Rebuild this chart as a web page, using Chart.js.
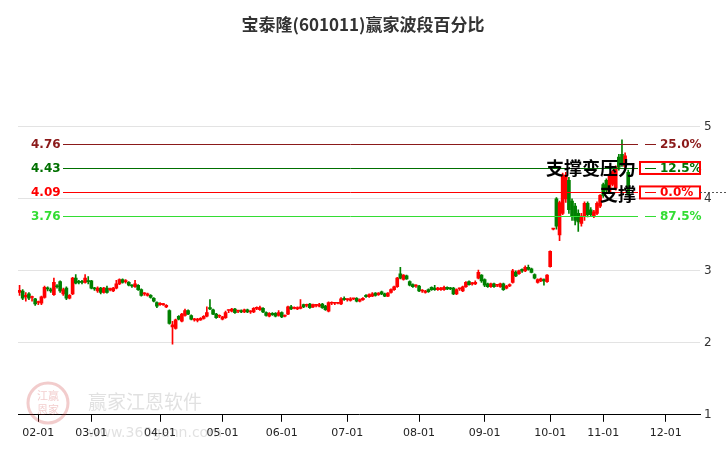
<!DOCTYPE html>
<html>
<head>
<meta charset="utf-8">
<script src="https://cdn.jsdelivr.net/npm/chart.js@4"></script>
<style>
  html, body { margin: 0; padding: 0; background: #fff; }
  #wrap { width: 726px; height: 450px; }
</style>
</head>
<body>
<div id="wrap"><canvas id="c" width="726" height="450"></canvas></div>
<script>
// daily candles: [open, close, high, low]
const candles = [
  [2.70,2.73,2.80,2.66],[2.72,2.62,2.74,2.60],[2.64,2.66,2.70,2.58],[2.68,2.62,2.70,2.60],[2.63,2.63,2.65,2.58],
  [2.61,2.54,2.62,2.52],[2.56,2.56,2.58,2.53],[2.55,2.64,2.65,2.53],[2.63,2.77,2.79,2.62],[2.76,2.75,2.78,2.72],
  [2.74,2.72,2.76,2.70],[2.67,2.84,2.90,2.66],[2.79,2.78,2.81,2.76],[2.85,2.72,2.86,2.70],[2.68,2.74,2.76,2.66],
  [2.76,2.62,2.78,2.60],[2.62,2.66,2.67,2.61],[2.68,2.90,2.91,2.67],[2.90,2.83,2.95,2.82],[2.85,2.84,2.87,2.82],
  [2.85,2.84,2.87,2.82],[2.84,2.90,2.95,2.83],[2.86,2.85,2.92,2.82],[2.86,2.76,2.87,2.75],[2.76,2.75,2.77,2.73],
  [2.72,2.76,2.78,2.70],[2.76,2.70,2.77,2.68],[2.70,2.76,2.77,2.69],[2.76,2.70,2.79,2.69],[2.74,2.74,2.76,2.72],
  [2.72,2.76,2.77,2.71],[2.76,2.82,2.87,2.75],[2.82,2.88,2.89,2.81],[2.88,2.84,2.89,2.83],[2.85,2.85,2.88,2.83],
  [2.84,2.80,2.85,2.79],[2.80,2.79,2.81,2.77],[2.78,2.82,2.87,2.77],[2.80,2.74,2.81,2.73],[2.74,2.66,2.75,2.65],
  [2.68,2.68,2.70,2.66],[2.66,2.68,2.69,2.65],[2.66,2.63,2.67,2.62],[2.62,2.58,2.63,2.57],[2.56,2.51,2.57,2.49],
  [2.53,2.55,2.56,2.52],[2.53,2.53,2.55,2.52],[2.50,2.52,2.53,2.49],[2.45,2.27,2.46,2.26],[2.22,2.25,2.30,1.98],
  [2.20,2.32,2.33,2.19],[2.37,2.33,2.38,2.32],[2.30,2.40,2.41,2.29],[2.38,2.45,2.47,2.37],[2.45,2.40,2.46,2.39],
  [2.38,2.33,2.39,2.32],[2.32,2.32,2.34,2.30],[2.31,2.33,2.34,2.29],[2.32,2.34,2.35,2.31],[2.34,2.37,2.38,2.33],
  [2.37,2.42,2.50,2.36],[2.49,2.47,2.60,2.46],[2.46,2.40,2.47,2.39],[2.40,2.35,2.41,2.34],[2.37,2.37,2.39,2.35],
  [2.33,2.36,2.37,2.32],[2.35,2.42,2.44,2.34],[2.45,2.45,2.46,2.42],[2.44,2.47,2.48,2.43],[2.47,2.42,2.48,2.41],
  [2.44,2.44,2.45,2.42],[2.45,2.43,2.46,2.42],[2.43,2.46,2.47,2.42],[2.46,2.43,2.47,2.42],[2.43,2.43,2.45,2.41],
  [2.43,2.48,2.49,2.42],[2.48,2.48,2.50,2.46],[2.46,2.49,2.51,2.45],[2.48,2.43,2.49,2.42],[2.42,2.38,2.43,2.37],
  [2.37,2.41,2.42,2.36],[2.41,2.39,2.42,2.38],[2.41,2.37,2.42,2.36],[2.38,2.42,2.45,2.37],[2.42,2.36,2.43,2.35],
  [2.37,2.38,2.39,2.36],
  [2.40,2.50,2.51,2.39],[2.50,2.47,2.52,2.46],[2.48,2.48,2.50,2.47],[2.47,2.49,2.50,2.46],[2.48,2.50,2.60,2.47],
  [2.53,2.50,2.54,2.49],[2.52,2.52,2.54,2.50],[2.54,2.49,2.55,2.48],[2.50,2.53,2.54,2.49],[2.52,2.52,2.53,2.50],
  [2.51,2.53,2.55,2.50],[2.54,2.49,2.55,2.48],[2.51,2.46,2.52,2.45],[2.44,2.56,2.57,2.43],[2.55,2.55,2.57,2.53],
  [2.55,2.55,2.56,2.53],[2.55,2.55,2.56,2.54],[2.54,2.61,2.63,2.53],[2.62,2.60,2.64,2.59],[2.60,2.60,2.61,2.58],
  [2.59,2.61,2.63,2.58],[2.61,2.61,2.62,2.60],[2.62,2.58,2.63,2.57],[2.58,2.60,2.61,2.57],[2.60,2.62,2.63,2.59],
  [2.66,2.64,2.67,2.63],[2.64,2.67,2.68,2.63],[2.65,2.68,2.70,2.64],[2.69,2.66,2.70,2.65],[2.67,2.69,2.70,2.66],
  [2.71,2.68,2.72,2.67],[2.68,2.65,2.69,2.64],[2.65,2.69,2.70,2.64],[2.70,2.74,2.75,2.69],[2.74,2.78,2.79,2.73],
  [2.78,2.90,2.91,2.77],[2.96,2.90,3.05,2.89],[2.88,2.94,2.95,2.87],[2.93,2.89,2.94,2.88],[2.85,2.80,2.86,2.79],
  [2.81,2.78,2.82,2.77],[2.79,2.79,2.81,2.77],[2.79,2.72,2.80,2.71],[2.72,2.72,2.74,2.70],[2.70,2.72,2.73,2.69],
  [2.74,2.71,2.75,2.70],[2.77,2.74,2.78,2.73],[2.76,2.74,2.80,2.73],[2.74,2.76,2.77,2.73],[2.74,2.76,2.77,2.73],
  [2.74,2.77,2.79,2.73],[2.77,2.75,2.78,2.74],[2.76,2.75,2.77,2.74],[2.76,2.68,2.77,2.67],[2.68,2.74,2.75,2.67],
  [2.75,2.75,2.76,2.73],[2.72,2.78,2.79,2.71],[2.78,2.84,2.85,2.77],[2.85,2.81,2.86,2.80],[2.82,2.82,2.84,2.80],
  [2.82,2.84,2.86,2.81],[2.90,2.98,3.01,2.89],[2.94,2.86,2.95,2.84],[2.88,2.80,2.89,2.78],[2.82,2.78,2.83,2.77],
  [2.78,2.82,2.83,2.77],[2.82,2.78,2.83,2.77],[2.80,2.80,2.81,2.78],[2.78,2.82,2.83,2.77],[2.82,2.74,2.83,2.73],
  [2.76,2.79,2.80,2.75],[2.79,2.81,2.82,2.78],[2.84,3.00,3.02,2.83],[2.98,2.93,3.00,2.92],[2.96,3.00,3.01,2.95],
  [3.02,3.00,3.03,2.98],[3.00,3.05,3.07,2.99],[3.05,3.02,3.08,3.01],[3.03,2.98,3.04,2.97],[2.95,2.90,2.96,2.89],
  [2.84,2.88,2.89,2.83],[2.86,2.89,2.90,2.85],[2.88,2.86,2.89,2.80],[2.85,2.94,2.95,2.84],
  [3.06,3.27,3.28,3.05],[3.58,3.58,3.59,3.57],[4.00,3.62,4.02,3.58],[3.50,3.95,3.97,3.42],[3.80,4.33,4.36,3.78],
  [4.00,4.33,4.37,3.95],[4.26,3.85,4.30,3.80],[3.97,3.76,4.00,3.70],[3.90,3.70,3.94,3.64],[3.80,3.68,3.85,3.55],
  [3.66,3.76,3.80,3.62],[3.76,3.94,3.96,3.70],[3.94,3.78,3.96,3.75],[3.85,3.78,3.88,3.76],[3.76,3.82,3.84,3.74],
  [3.80,3.94,3.96,3.78],[3.90,4.05,4.06,3.88],[4.20,4.05,4.22,4.02],[4.26,4.12,4.28,4.08],[4.10,4.33,4.35,4.08],
  [4.20,4.38,4.40,4.18],[4.15,4.44,4.46,4.12],[4.58,4.44,4.62,4.40],[4.62,4.48,4.82,4.45],[4.45,4.60,4.64,4.42],
  [4.37,4.07,4.40,4.05]
]

// month ticks (candle slot index) and their labels
const monthIdx = [6, 23, 45, 65, 84, 105, 128, 149, 170, 187, 207]
const monthLabels = ['02-01','03-01','04-01','05-01','06-01','07-01','08-01','09-01','10-01','11-01','12-01']

// wave levels
const levelValues = [4.76, 4.43, 4.09, 3.76]
const levelPcts = ['25.0%', '12.5%', '0.0%', '87.5%']
const levelColors = ['#8b1a1a', '#007000', '#ff0000', '#33dd33']

const UP = '#ff0000'
const DOWN = '#008000'
const colorOf = (c) => (c[1] >= c[0] ? UP : DOWN)

const overlay = {
  id: 'overlay',
  afterDatasetsDraw(chart) {
    const { ctx, scales: { y } } = chart
    ctx.save()
    // title
    ctx.fillStyle = '#333'
    ctx.font = 'bold 17px "Noto Sans CJK SC"'
    ctx.textAlign = 'center'
    ctx.textBaseline = 'middle'
    ctx.fillText('宝泰隆(601011)赢家波段百分比', 363, 25)
    // level lines
    levelValues.forEach((v, i) => {
      const py = Math.round(y.getPixelForValue(v)) + 0.5
      ctx.strokeStyle = levelColors[i]
      ctx.lineWidth = 1
      ctx.beginPath(); ctx.moveTo(63, py); ctx.lineTo(638, py); ctx.stroke()
      ctx.beginPath(); ctx.moveTo(645, py); ctx.lineTo(656, py); ctx.stroke()
      ctx.fillStyle = levelColors[i]
      ctx.font = 'bold 12px "DejaVu Sans"'
      ctx.textAlign = 'left'
      ctx.fillText(v.toFixed(2), 31, py)
      ctx.fillText(levelPcts[i], 660, py)
    })
    // boxes around 12.5% and 0.0%
    ctx.strokeStyle = '#ff0000'
    ctx.lineWidth = 2
    ;[1, 2].forEach(i => {
      const py = y.getPixelForValue(levelValues[i])
      ctx.strokeRect(640, py - 6, 60, 12)
    })
    const p0 = Math.round(y.getPixelForValue(levelValues[2])) + 0.5
    ctx.setLineDash([2, 2]); ctx.lineWidth = 1
    ctx.strokeStyle = '#555'
    ctx.beginPath(); ctx.moveTo(700, p0); ctx.lineTo(726, p0); ctx.stroke()
    ctx.setLineDash([])
    // labels
    ctx.fillStyle = '#000'
    ctx.font = 'bold 18px "Noto Sans CJK SC"'
    ctx.textAlign = 'right'
    ctx.fillText('支撑变压力', 636, y.getPixelForValue(levelValues[1]))
    ctx.fillText('支撑', 636, y.getPixelForValue(levelValues[2]) + 2)
    // watermark
    ctx.globalAlpha = 0.25
    ctx.strokeStyle = '#cc3333'; ctx.lineWidth = 3
    ctx.beginPath(); ctx.arc(48, 403, 20, 0, Math.PI * 2); ctx.stroke()
    ctx.fillStyle = '#cc3333'
    ctx.font = '11px "Noto Sans CJK SC"'
    ctx.textAlign = 'center'
    ctx.fillText('江赢', 48, 396); ctx.fillText('恩家', 48, 410)
    ctx.fillStyle = '#888'
    ctx.font = '19px "Noto Sans CJK SC"'
    ctx.textAlign = 'left'
    ctx.fillText('赢家江恩软件', 88, 402)
    ctx.font = '14px "DejaVu Sans"'
    ctx.fillText('www.360gann.com', 88, 433)
    ctx.restore()
  }
}

new Chart(document.getElementById('c'), {
  type: 'bar',
  data: {
    datasets: [
      {
        label: 'wick',
        data: candles.map((c, i) => ({ x: i, y: [c[3], c[2]] })),
        backgroundColor: candles.map(colorOf),
        barThickness: 1,
        grouped: false,
      },
      {
        label: 'body',
        data: candles.map((c, i) => ({ x: i, y: [c[0], c[1]] })),
        backgroundColor: candles.map(colorOf),
        barThickness: 3,
        minBarLength: 1,
        grouped: false,
      },
    ],
  },
  options: {
    responsive: false,
    animation: false,
    layout: { padding: { left: 18, top: 55, right: 2, bottom: 5 } },
    plugins: { legend: { display: false }, tooltip: { enabled: false } },
    scales: {
      x: {
        type: 'linear',
        offset: false,
        min: -0.5,
        max: 218,
        afterBuildTicks: (s) => { s.ticks = monthIdx.map(v => ({ value: v })) },
        ticks: {
          autoSkip: false,
          maxRotation: 0,
          padding: 5,
          color: '#222',
          font: { size: 11, family: 'DejaVu Sans' },
          callback: (v) => monthLabels[monthIdx.indexOf(v)],
        },
        grid: { offset: false, drawOnChartArea: false, drawTicks: true, tickLength: 7, color: '#000' },
        border: { color: '#000' },
      },
      y: {
        position: 'right',
        min: 1,
        max: 6,
        ticks: {
          stepSize: 1,
          color: '#333',
          font: { size: 12, family: 'DejaVu Sans' },
          padding: 4,
          callback: (v) => (v === 6 ? '' : v),
        },
        afterFit: (s) => { s.width = 24 },
        grid: { color: (c) => (c.tick.value === 6 ? 'rgba(0,0,0,0)' : '#e3e3e3'), drawTicks: false },
        border: { display: false },
      },
    },
  },
  plugins: [overlay],
})
</script>
</body>
</html>
